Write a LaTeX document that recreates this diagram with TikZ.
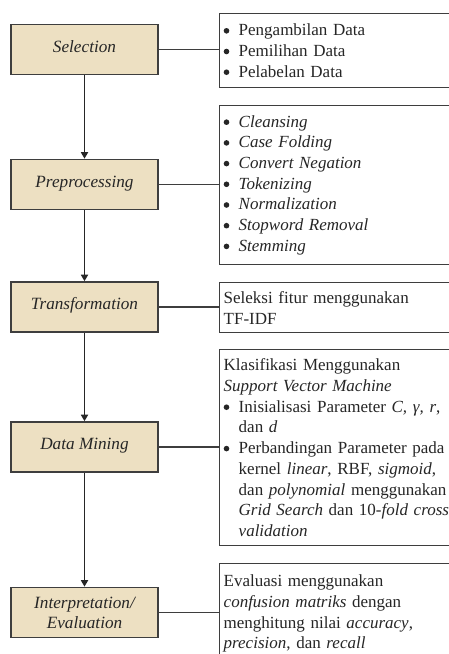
\documentclass[tikz,border=0pt]{standalone}
\usepackage{fontspec}
\setmainfont{Liberation Serif}
\usetikzlibrary{arrows.meta}
\definecolor{boxfill}{RGB}{237,224,194}
\definecolor{boxdraw}{RGB}{62,62,62}
\definecolor{txt}{RGB}{38,38,38}
\newcommand{\bulitem}{\makebox[15bp][l]{\tikz[baseline=0pt]\fill[txt] (2.9bp,5bp) circle (2.8bp);}}
\newcommand{\contind}{\hspace*{15bp}}
\begin{document}
\begin{tikzpicture}[x=1bp,y=-1bp,
  stagebox/.style={draw=boxdraw, line width=1.6bp, fill=boxfill, minimum width=147bp, minimum height=50bp, inner sep=0pt, font=\fontsize{17.2bp}{20bp}\selectfont\itshape, text=txt, align=center},
  oneline/.style={text height=0.7em, text depth=0.12em},
  infobox/.style={draw=boxdraw, line width=1.4bp, fill=white, anchor=north west, inner xsep=4bp, inner ysep=0pt, text width=254bp, align=left, text=txt, font=\fontsize{17bp}{20.7bp}\selectfont},
  flow/.style={draw=black!85, line width=1.8bp, -{Triangle[width=7bp,length=6.5bp]}},
  link/.style={draw=boxdraw, line width=1.5bp}]
\useasboundingbox (0,0) rectangle (449,654);
\clip (0,0) rectangle (449,654);
\fill[white] (0,0) rectangle (449,654);

% stage boxes
\node[stagebox, oneline] (sel) at (84.5,49.5) {Selection};
\node[stagebox, oneline] (pre) at (84.5,184.5) {Preprocessing};
\node[stagebox, oneline] (tra) at (84.5,307) {Transformation};
\node[stagebox, oneline] (dm)  at (84.5,447) {Data Mining};
\node[stagebox] (ie) at (84.5,612.5) {Interpretation/\\Evaluation};

% info boxes
\node[infobox, minimum height=74bp] (selinfo) at (219,13)
  {\bulitem Pengambilan Data\\
   \bulitem Pemilihan Data\\
   \bulitem Pelabelan Data};
\node[infobox, minimum height=159bp] (preinfo) at (219,105)
  {\bulitem\textit{Cleansing}\\
   \bulitem\textit{Case Folding}\\
   \bulitem\textit{Convert Negation}\\
   \bulitem\textit{Tokenizing}\\
   \bulitem\textit{Normalization}\\
   \bulitem\textit{Stopword Removal}\\
   \bulitem\textit{Stemming}};
\node[infobox, minimum height=50bp] (trainfo) at (219,282)
  {Seleksi fitur menggunakan\\
   TF-IDF};
\node[infobox, minimum height=196bp] (dminfo) at (219,349)
  {Klasifikasi Menggunakan\\
   \textit{Support Vector Machine}\\
   \bulitem Inisialisasi Parameter \textit{C, γ, r},\\
   \contind dan \textit{d}\\
   \bulitem Perbandingan Parameter pada\\
   \contind kernel \textit{linear}, RBF, \textit{sigmoid},\\
   \contind dan \textit{polynomial} menggunakan\\
   \contind\textit{Grid Search} dan 10-\textit{fold cross}\\
   \contind\textit{validation}};
\node[infobox, minimum height=100bp] (ieinfo) at (219,563)
  {Evaluasi menggunakan\\
   \textit{confusion matriks} dengan\\
   menghitung nilai \textit{accuracy},\\
   \textit{precision}, dan \textit{recall}};

% flow arrows
\draw[flow] (sel.south) -- (pre.north);
\draw[flow] (pre.south) -- (tra.north);
\draw[flow] (tra.south) -- (dm.north);
\draw[flow] (dm.south) -- (ie.north);

% links
\draw[link] (sel.east) -- (sel.east -| selinfo.west);
\draw[link] (pre.east) -- (pre.east -| preinfo.west);
\draw[link] (tra.east) -- (tra.east -| trainfo.west);
\draw[link] (dm.east) -- (dm.east -| dminfo.west);
\draw[link] (ie.east) -- (ie.east -| ieinfo.west);
\end{tikzpicture}
\end{document}
